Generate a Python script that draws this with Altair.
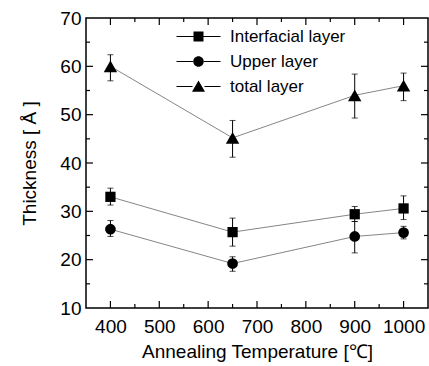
import altair as alt
import pandas as pd

# ---- data ----
temps = [400, 650, 900, 1000]
series_names = ["Interfacial layer", "Upper layer", "total layer"]

interfacial = [33.0, 25.7, 29.4, 30.6]
interfacial_lo = [31.3, 22.8, 27.9, 28.3]
interfacial_hi = [34.8, 28.6, 31.0, 33.2]

upper = [26.3, 19.2, 24.8, 25.6]
upper_lo = [24.8, 17.6, 21.4, 24.3]
upper_hi = [28.1, 20.6, 27.9, 26.9]

total = [60.0, 45.2, 54.0, 56.0]
total_lo = [57.0, 41.2, 49.3, 52.9]
total_hi = [62.4, 48.8, 58.4, 58.6]

x_major = [400, 500, 600, 700, 800, 900, 1000]
x_minor = [450, 550, 650, 750, 850, 950]
y_labels = [10, 20, 30, 40, 50, 60, 70]
y_major = [20, 30, 40, 50, 60]
y_minor = [15, 25, 35, 45, 55, 65]

rows = []
for name, vals, lo, hi in [
    (series_names[0], interfacial, interfacial_lo, interfacial_hi),
    (series_names[1], upper, upper_lo, upper_hi),
    (series_names[2], total, total_lo, total_hi),
]:
    for t, v, l, h in zip(temps, vals, lo, hi):
        rows.append({"T": t, "v": v, "lo": l, "hi": h, "series": name})
df = pd.DataFrame(rows)

W, H = 342, 290
FONT = "Liberation Sans"
XD = [350, 1050]
YD = [10, 70]

xscale = alt.Scale(domain=XD, nice=False, zero=False)
yscale = alt.Scale(domain=YD, nice=False, zero=False)

xaxis = alt.Axis(values=x_major, format="d", ticks=False, domain=False, grid=False,
                 labelFont=FONT, labelFontSize=19, labelColor="black",
                 labelPadding=9, title="Annealing Temperature [℃]",
                 titleFont=FONT, titleFontSize=19, titleFontWeight="normal",
                 titleColor="black", titlePadding=6)
yaxis = alt.Axis(values=y_labels, ticks=False, domain=False,
                 grid=False, labelFont=FONT, labelFontSize=19, labelColor="black",
                 labelPadding=5, title="Thickness [ Å ]", titleFont=FONT,
                 titleFontSize=19, titleFontWeight="normal", titleColor="black",
                 titlePadding=20)

# inward axis ticks on all four sides, placed through the x / y scales
tick_layers = []
for vals, L in [(x_major, 7), (x_minor, 4)]:
    src = alt.Chart(pd.DataFrame({"tv": vals}))
    tick_layers.append(src.mark_rule(color="black", strokeWidth=1.2).encode(
        x=alt.X("tv:Q", scale=xscale, axis=xaxis), y=alt.value(H), y2=alt.value(H - L)))
    tick_layers.append(src.mark_rule(color="black", strokeWidth=1.2).encode(
        x=alt.X("tv:Q", scale=xscale, axis=xaxis), y=alt.value(0), y2=alt.value(L)))
for vals, L in [(y_major, 7), (y_minor, 4)]:
    src = alt.Chart(pd.DataFrame({"tv": vals}))
    tick_layers.append(src.mark_rule(color="black", strokeWidth=1.2).encode(
        y=alt.Y("tv:Q", scale=yscale, axis=yaxis), x=alt.value(0), x2=alt.value(L)))
    tick_layers.append(src.mark_rule(color="black", strokeWidth=1.2).encode(
        y=alt.Y("tv:Q", scale=yscale, axis=yaxis), x=alt.value(W), x2=alt.value(W - L)))

base = alt.Chart(df)

lines = base.mark_line(color="#666666", strokeWidth=0.8).encode(
    x=alt.X("T:Q", scale=xscale, axis=xaxis),
    y=alt.Y("v:Q", scale=yscale, axis=yaxis),
    detail="series:N",
)

err = base.mark_rule(color="black", strokeWidth=1).encode(
    x="T:Q", y="lo:Q", y2="hi:Q"
)
cap_lo = base.mark_tick(color="black", orient="horizontal", size=6, thickness=1).encode(
    x="T:Q", y="lo:Q"
)
cap_hi = base.mark_tick(color="black", orient="horizontal", size=6, thickness=1).encode(
    x="T:Q", y="hi:Q"
)

marker_layers = []
for name, shp, sz in zip(series_names, ["square", "circle", "triangle-up"], [105, 115, 180]):
    marker_layers.append(
        base.transform_filter(alt.datum.series == name)
        .mark_point(filled=True, color="black", opacity=1, shape=shp, size=sz)
        .encode(x="T:Q", y="v:Q")
    )

# legend symbols: line + marker as one custom path; unit = sqrt(size)/2 = 5 px
sq = ("M-4.4,-0.1H-1V0.1H-4.4Z M1,-0.1H4.4V0.1H1Z "
      "M-1,-1H1V1H-1Z")
ci = ("M-4.4,-0.1H-1V0.1H-4.4Z M1,-0.1H4.4V0.1H1Z "
      "M-1.05,0A1.05,1.05 0 1,0 1.05,0A1.05,1.05 0 1,0 -1.05,0Z")
tr = ("M-4.4,-0.1H-1.2V0.1H-4.4Z M1.2,-0.1H4.4V0.1H1.2Z "
      "M0,-1.2L1.3,1.05H-1.3Z")

legend_layer = base.transform_filter("false").mark_point(
    filled=True, fill="black", strokeWidth=0, opacity=1
).encode(
    x="T:Q",
    y="v:Q",
    shape=alt.Shape("series:N", scale=alt.Scale(domain=series_names, range=[sq, ci, tr]),
                    legend=alt.Legend(orient="none", legendX=104, legendY=10, title=None,
                                      symbolSize=100, symbolFillColor="black",
                                      symbolStrokeWidth=0,
                                      labelFont=FONT, labelFontSize=17,
                                      labelColor="black", labelOffset=23,
                                      rowPadding=7, padding=0, symbolOpacity=1)),
)

chart = alt.layer(
    lines, err, cap_lo, cap_hi, *marker_layers, legend_layer, *tick_layers
).properties(
    width=W, height=H,
    autosize="none",
    padding={"left": 86, "top": 18, "right": 1, "bottom": 58},
    background="white",
).configure_view(stroke="black", strokeWidth=1.5)

chart.save("out.html", embed_options={"renderer": "svg", "actions": False})
